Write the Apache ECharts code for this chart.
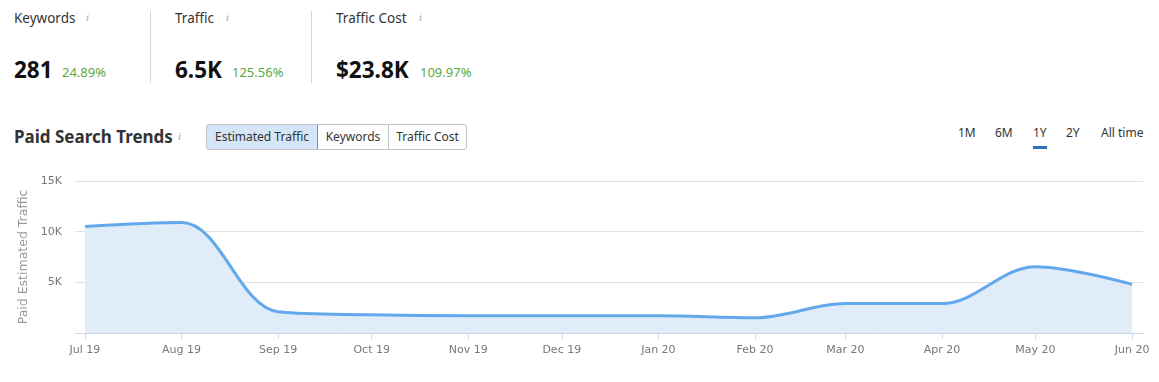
<!DOCTYPE html>
<html><head><meta charset="utf-8">
<script src="https://cdn.jsdelivr.net/npm/echarts@6/dist/echarts.min.js"></script>
<style>
html,body{margin:0;padding:0;width:1159px;height:382px;background:#fff;overflow:hidden;font-family:"Noto Sans","Open Sans",sans-serif;}
.abs{position:absolute;white-space:nowrap;}
.kt{font-size:13.5px;color:#333;}
.kv{font-size:22.5px;font-weight:bold;color:#111;}
.kp{font-size:13px;color:#5aa83b;}
.info{font-size:10px;color:#aaa;font-style:italic;font-family:"DejaVu Serif",serif;}
.sep{position:absolute;width:1px;background:#d6d6d6;top:11px;height:72px;}
.btns{position:absolute;left:206px;top:124px;height:24px;display:flex;border:1px solid #c4c4c4;border-radius:3px;overflow:hidden;}
.btns div{font-size:12px;color:#333;line-height:24px;text-align:center;box-sizing:border-box;}
.btns div.act{background:#d4e5f7;border:1px solid #5b9ad6;margin:-1px 0 -1px -1px;border-radius:3px 0 0 3px;line-height:24px;height:26px;}
.rng{font-size:12px;color:#333;}
#chart{position:absolute;left:0;top:160px;width:1159px;height:222px;}
</style></head>
<body>
<div class="abs kt" style="left:14px;top:9px">Keywords</div><div class="abs info" style="left:86px;top:12px">i</div>
<div class="abs kv" style="left:14px;top:54px">281</div><div class="abs kp" style="left:62px;top:63px">24.89%</div>
<div class="sep" style="left:150px"></div>
<div class="abs kt" style="left:175px;top:9px">Traffic</div><div class="abs info" style="left:226px;top:12px">i</div>
<div class="abs kv" style="left:175px;top:54px">6.5K</div><div class="abs kp" style="left:232px;top:63px">125.56%</div>
<div class="sep" style="left:311px"></div>
<div class="abs kt" style="left:336px;top:9px">Traffic Cost</div><div class="abs info" style="left:419px;top:12px">i</div>
<div class="abs kv" style="left:336px;top:54px">$23.8K</div><div class="abs kp" style="left:420px;top:63px">109.97%</div>

<div class="abs" style="left:14px;top:125px;font-size:17px;font-weight:bold;color:#333">Paid Search Trends</div>
<div class="abs info" style="left:178px;top:131px">i</div>
<div class="btns"><div class="act" style="width:112px">Estimated Traffic</div><div style="width:70px">Keywords</div><div style="width:78px;border-left:1px solid #c4c4c4">Traffic Cost</div></div>

<div class="abs rng" style="left:958px;top:124px">1M</div>
<div class="abs rng" style="left:995px;top:124px">6M</div>
<div class="abs rng" style="left:1033px;top:124px">1Y</div>
<div class="abs" style="left:1033px;top:146px;width:14px;height:3px;background:#2f6fb8"></div>
<div class="abs rng" style="left:1066px;top:124px">2Y</div>
<div class="abs rng" style="left:1101px;top:124px">All time</div>

<div id="chart"></div>
<script>
const months = ['2019-07-01','2019-08-01','2019-09-01','2019-10-01','2019-11-01','2019-12-01','2020-01-01','2020-02-01','2020-03-01','2020-04-01','2020-05-01','2020-06-01'];
const traffic = [10500, 10900, 2100, 1800, 1700, 1700, 1700, 1500, 2900, 2900, 6550, 4800];
const yTicks = [0, 5000, 10000, 15000];
const monthNames = ['Jan','Feb','Mar','Apr','May','Jun','Jul','Aug','Sep','Oct','Nov','Dec'];

const DAY = 86400000;
const tickTimes = months.map(m => Date.parse(m + 'T00:00:00Z'));
const data = tickTimes.map((t, i) => [t, traffic[i]]);
const chart = echarts.init(document.getElementById('chart'));
chart.setOption({
  animation: false,
  grid: {left: 75, right: 16, top: 21, bottom: 49},
  xAxis: {
    type: 'value',
    min: tickTimes[0] - 3.2 * DAY,
    max: tickTimes[tickTimes.length - 1] + 3.5 * DAY,
    axisLine: {lineStyle: {color: '#ccd6eb'}},
    axisTick: {show: true, length: 6, lineStyle: {color: '#ccd6eb'}, customValues: tickTimes},
    axisLabel: {
      customValues: tickTimes,
      color: '#777', fontSize: 11, fontFamily: 'DejaVu Sans', margin: 12,
      formatter: v => { const d = new Date(v); return monthNames[d.getUTCMonth()] + ' ' + String(d.getUTCFullYear()).slice(2); }
    },
    splitLine: {show: false}
  },
  yAxis: {
    type: 'value', min: yTicks[0], max: yTicks[yTicks.length - 1], interval: 5000,
    name: 'Paid Estimated Traffic', nameLocation: 'middle', nameGap: 43,
    nameTextStyle: {color: '#999', fontSize: 12.5, fontFamily: 'DejaVu Sans'},
    axisLine: {show: false}, axisTick: {show: false},
    axisLabel: {color: '#777', fontSize: 11, fontFamily: 'DejaVu Sans', margin: 13, showMinLabel: false,
      formatter: v => v === 0 ? '' : (v / 1000) + 'K'},
    splitLine: {lineStyle: {color: '#e0e0e0'}}
  },
  series: [{
    type: 'line', data: data, smooth: 0.35, symbol: 'none',
    lineStyle: {color: '#63a8eb', width: 3},
    areaStyle: {color: '#e0edf9', opacity: 1},
    z: 3
  }]
});
</script>
</body></html>
